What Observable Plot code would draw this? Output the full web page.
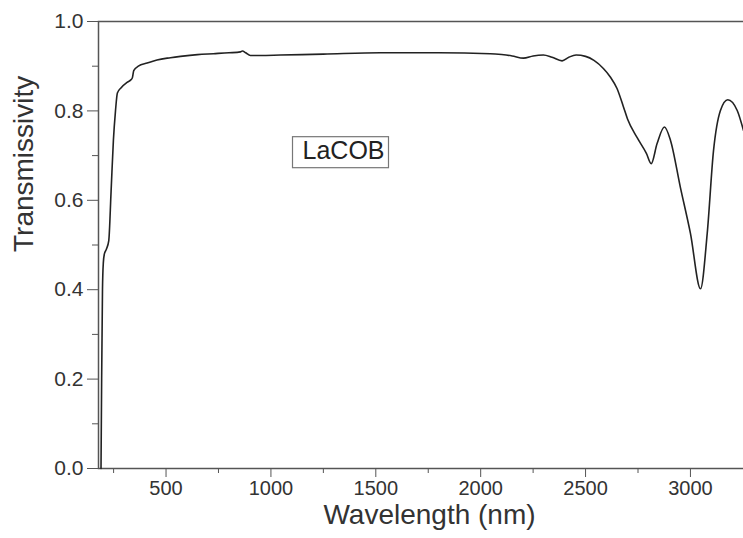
<!DOCTYPE html>
<html><head><meta charset="utf-8">
<script src="https://cdn.jsdelivr.net/npm/d3@7"></script>
<script src="https://cdn.jsdelivr.net/npm/@observablehq/plot@0.6"></script>
<style>
html,body{margin:0;padding:0;background:#fff;}
#chart{width:743px;height:538px;overflow:hidden;}
#chart svg{max-width:none !important;}
</style></head><body><div id="chart"></div>
<script>
const wavelength = [190,193,197,201,206,215,227,238,249,259,268,286,314,334,340,346,368,410,457,521,569,650,726,800,855,864,880,902,950,1045,1250,1522,1800,2046,2100,2150,2204,2250,2299,2340,2388,2420,2455,2500,2540,2585,2618,2650,2680,2700,2746,2790,2813,2841,2876,2905,2952,3000,3048,3080,3110,3143,3178,3223,3253];
const transmissivity = [0.0,0.2,0.4,0.46,0.48,0.49,0.51,0.62,0.734,0.80,0.84,0.852,0.864,0.87,0.875,0.89,0.90,0.907,0.914,0.919,0.922,0.926,0.928,0.930,0.932,0.934,0.930,0.924,0.924,0.925,0.927,0.930,0.930,0.928,0.926,0.923,0.918,0.923,0.925,0.920,0.912,0.920,0.925,0.922,0.913,0.895,0.876,0.850,0.810,0.782,0.740,0.705,0.682,0.727,0.764,0.734,0.629,0.526,0.402,0.526,0.711,0.801,0.825,0.801,0.756];
const xMajorTicks = [500,1000,1500,2000,2500,3000];
const xMinorTicks = [250,750,1250,1750,2250,2750];
const yMajorTicks = [0,0.2,0.4,0.6,0.8,1.0];
const yMinorTicks = [0.1,0.3,0.5,0.7,0.9];
const sampleLabel = "LaCOB";
const sampleLabelAt = {w: 1346, t: 0.711};
const xLabel = "Wavelength (nm)";
const yLabel = "Transmissivity";

const data = wavelength.map((w, i) => ({w, t: transmissivity[i]}));
const axisColor = "#555";
const textColor = "#333";

const chart = Plot.plot({
  width: 760, height: 538,
  marginLeft: 98, marginRight: 0, marginTop: 21, marginBottom: 70,
  style: {fontFamily: "'Liberation Sans', Arial, sans-serif", color: textColor, background: "#fff", maxWidth: "none"},
  x: {domain: [178, 3334]},
  y: {domain: [0, 1]},
  marks: [
    Plot.frame({stroke: axisColor, strokeWidth: 1.5}),
    Plot.axisX({ticks: xMajorTicks, tickSize: 9, tickPadding: 3, fontSize: 20, label: null, tickFormat: d => String(d), stroke: axisColor, fill: textColor}),
    Plot.axisX({ticks: xMinorTicks, tickSize: 5, label: null, tickFormat: () => "", stroke: axisColor}),
    Plot.axisY({ticks: yMajorTicks, tickSize: 11, tickPadding: 4, fontSize: 21, label: null, tickFormat: d3.format(".1f"), stroke: axisColor, fill: textColor}),
    Plot.axisY({ticks: yMinorTicks, tickSize: 6, label: null, tickFormat: () => "", stroke: axisColor}),
    Plot.line(data, {x: "w", y: "t", curve: "monotone-x", stroke: "#222", strokeWidth: 1.6}),
    Plot.text([sampleLabel], {x: () => sampleLabelAt.w, y: () => sampleLabelAt.t, fontSize: 25, fill: "#222", className: "sample-label"}),
    Plot.text([xLabel], {frameAnchor: "bottom", dy: 55, fontSize: 28, fill: textColor}),
    Plot.text([yLabel], {frameAnchor: "left", rotate: -90, dx: -74, dy: 7, fontSize: 28, fill: textColor})
  ]
});
chart.style.maxWidth = "none";
document.getElementById("chart").appendChild(chart);

// box around the sample label
const t = chart.querySelector(".sample-label text");
if (t) {
  const bb = t.getBBox();
  const rect = document.createElementNS("http://www.w3.org/2000/svg", "rect");
  const tr = t.getAttribute("transform");
  if (tr) rect.setAttribute("transform", tr);
  rect.setAttribute("x", bb.x - 10);
  rect.setAttribute("y", bb.y + 1);
  rect.setAttribute("width", bb.width + 14);
  rect.setAttribute("height", bb.height + 3);
  rect.setAttribute("fill", "none");
  rect.setAttribute("stroke", "#777");
  rect.setAttribute("stroke-width", "1.2");
  t.parentNode.insertBefore(rect, t);
}
</script>
</body></html>
